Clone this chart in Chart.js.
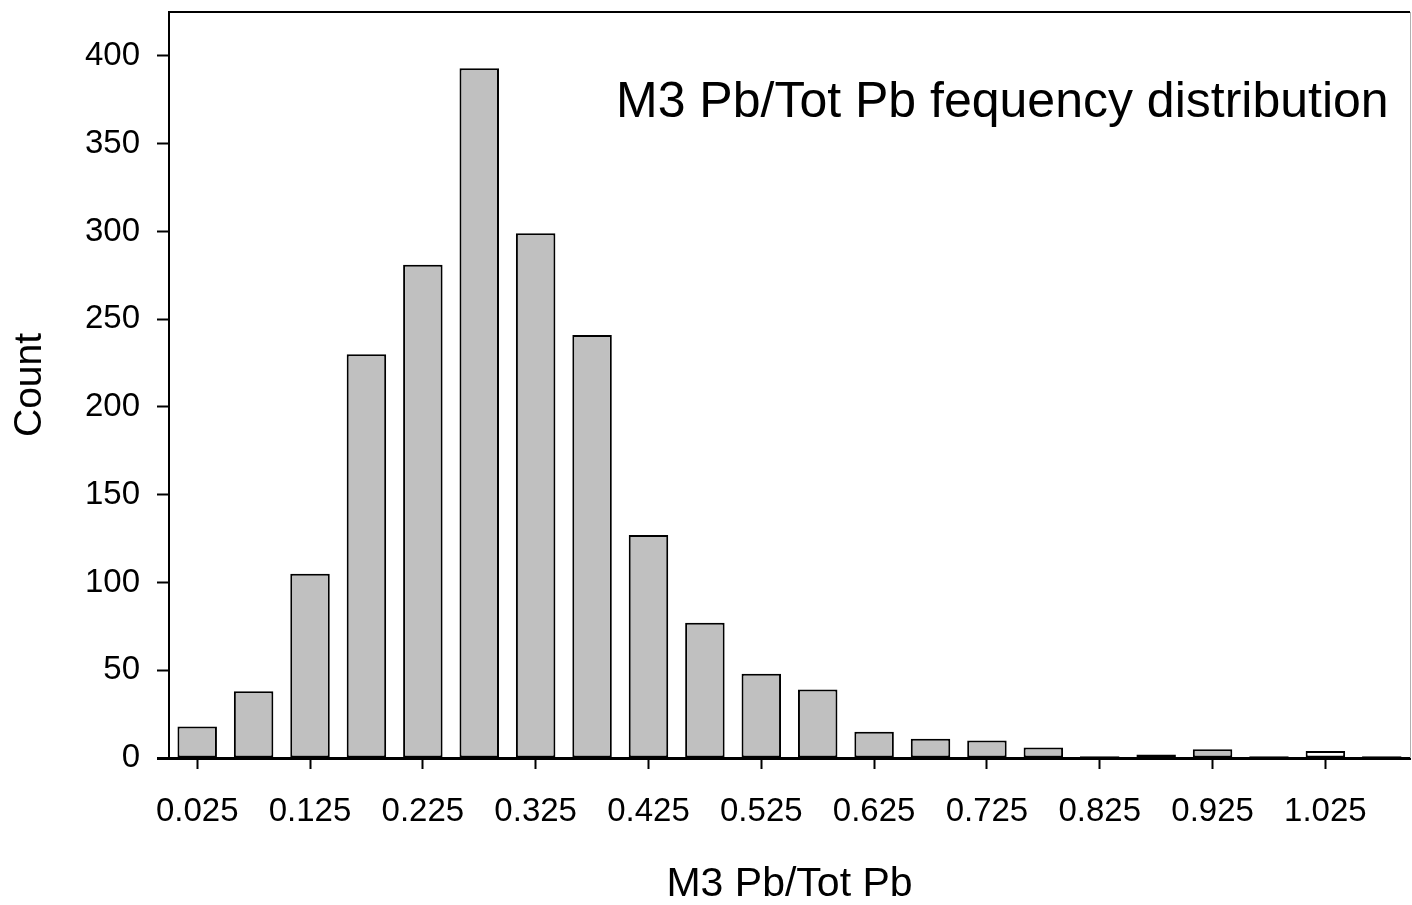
<!DOCTYPE html>
<html>
<head>
<meta charset="utf-8">
<script src="https://cdn.jsdelivr.net/npm/chart.js@4.4.1/dist/chart.umd.min.js"></script>
<style>
  body { margin: 0; background: #fff; }
  canvas { display: block; }
</style>
</head>
<body>
<canvas id="c1" width="1412" height="905"></canvas>
<script>
// bin centres (M3 Pb / Tot Pb) and counts
var bins = [0.025, 0.075, 0.125, 0.175, 0.225, 0.275, 0.325, 0.375, 0.425, 0.475, 0.525,
            0.575, 0.625, 0.675, 0.725, 0.775, 0.825, 0.875, 0.925, 0.975, 1.025, 1.075];
var counts = [18, 38, 105, 230, 281, 393, 299, 241, 127, 77, 48,
              39, 15, 11, 10, 6, 1, 2, 5, 1, 4, 1];
var xTicks = [0.025, 0.125, 0.225, 0.325, 0.425, 0.525, 0.625, 0.725, 0.825, 0.925, 1.025];
var xTickLabels = ["0.025", "0.125", "0.225", "0.325", "0.425", "0.525", "0.625", "0.725", "0.825", "0.925", "1.025"];
var yTicks = [0, 50, 100, 150, 200, 250, 300, 350, 400];

var chartTitle = "M3 Pb/Tot Pb fequency distribution";
var whiteBins = [17, 20]; // these two bars are drawn unfilled in the original

var FONT = "'Liberation Sans', Arial, sans-serif";

// frame (top + right edge) and the inner title
var framePlugin = {
  id: "frame",
  afterDraw: function (chart) {
    var a = chart.chartArea;
    var ctx = chart.ctx;
    ctx.save();
    ctx.strokeStyle = "#000";
    ctx.lineWidth = 2;
    ctx.beginPath();
    ctx.moveTo(a.left - 1, a.top);
    ctx.lineTo(a.right, a.top);
    ctx.stroke();
    ctx.strokeStyle = "#b0b0b0";
    ctx.lineWidth = 1;
    ctx.beginPath();
    ctx.moveTo(a.right + 0.5, a.top);
    ctx.lineTo(a.right + 0.5, a.bottom);
    ctx.stroke();
    // x axis line runs a little past the y axis
    ctx.strokeStyle = "#000";
    ctx.lineWidth = 3;
    ctx.beginPath();
    ctx.moveTo(a.left - 12, a.bottom + 0.5);
    ctx.lineTo(a.left, a.bottom + 0.5);
    ctx.stroke();
    ctx.fillStyle = "#000";
    ctx.font = "50px " + FONT;
    ctx.textAlign = "left";
    ctx.textBaseline = "alphabetic";
    ctx.fillText(chartTitle, 616, 117);
    ctx.restore();
  }
};

var ctx = document.getElementById("c1").getContext("2d");
var chart = new Chart(ctx, {
  type: "bar",
  data: {
    datasets: [
      {
        data: bins.map(function (b, i) {
          return { x: b, y: counts[i] };
        }),
        backgroundColor: bins.map(function (b, i) {
          return whiteBins.indexOf(i) >= 0 ? "#ffffff" : "#c0c0c0";
        }),
        borderColor: "#000",
        borderWidth: 2,
        borderSkipped: false,
        barPercentage: 0.7,
        categoryPercentage: 1
      }
    ]
  },
  options: {
    responsive: false,
    animation: false,
    devicePixelRatio: 1,
    layout: { padding: { left: 0, top: 12, right: 2, bottom: 0 } },
    plugins: {
      legend: { display: false },
      tooltip: { enabled: false }
    },
    scales: {
      x: {
        type: "linear",
        min: 0,
        max: 1.1,
        offset: false,
        afterBuildTicks: function (scale) {
          scale.ticks = xTicks.map(function (v) { return { value: v }; });
        },
        afterFit: function (scale) {
          scale.height = 147;
          scale.paddingLeft = 0;
          scale.paddingRight = 0;
        },
        ticks: {
          autoSkip: false,
          maxRotation: 0,
          color: "#000",
          padding: 23,
          font: { family: FONT, size: 33 },
          callback: function (v, i) { return xTickLabels[i]; }
        },
        grid: {
          offset: false,
          drawOnChartArea: false,
          drawTicks: true,
          tickLength: 11,
          tickColor: "#000",
          tickWidth: 2
        },
        border: { display: true, color: "#000", width: 3 },
        title: {
          display: true,
          text: "M3 Pb/Tot Pb",
          color: "#000",
          font: { family: FONT, size: 41, lineHeight: 1.0 },
          padding: { top: 0, bottom: 0 }
        }
      },
      y: {
        min: 0,
        max: 425,
        afterBuildTicks: function (scale) {
          scale.ticks = yTicks.map(function (v) { return { value: v }; });
        },
        afterFit: function (scale) {
          scale.width = 169;
          scale.paddingTop = 0;
          scale.paddingBottom = 0;
        },
        ticks: {
          color: "#000",
          padding: 17,
          font: { family: FONT, size: 33 }
        },
        grid: {
          drawOnChartArea: false,
          drawTicks: true,
          tickLength: 12,
          tickColor: "#000",
          tickWidth: 2
        },
        border: { display: true, color: "#000", width: 2 },
        title: {
          display: true,
          text: "Count",
          color: "#000",
          font: { family: FONT, size: 39, lineHeight: 1.2 },
          padding: { top: 7, bottom: 0 }
        }
      }
    }
  },
  plugins: [framePlugin]
});
</script>
</body>
</html>
